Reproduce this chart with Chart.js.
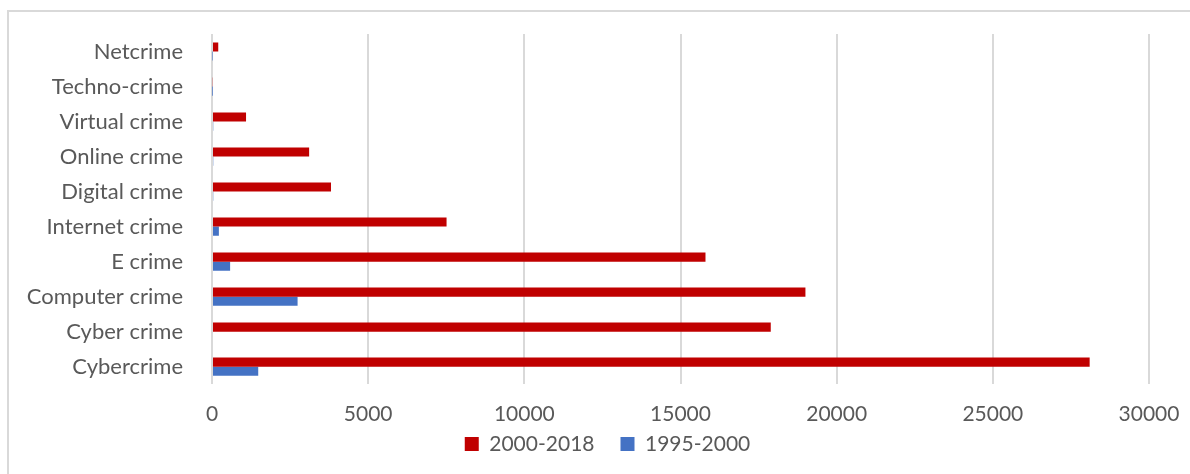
<!DOCTYPE html>
<html>
<head>
<meta charset="utf-8">
<script src="https://cdn.jsdelivr.net/npm/chart.js@4/dist/chart.umd.min.js"></script>
<style>
  body { margin: 0; background: #fff; }
  #frame {
    position: absolute; left: 7px; top: 10px; width: 1300px; height: 600px;
    border-left: 2px solid #d9d9d9; border-top: 2px solid #d9d9d9;
  }
  #chart { position: absolute; left: 0; top: 0; }
</style>
</head>
<body>
<div id="frame"></div>
<canvas id="chart" width="1190" height="474"></canvas>
<script>
const categories = ["Netcrime", "Techno-crime", "Virtual crime", "Online crime", "Digital crime",
  "Internet crime", "E crime", "Computer crime", "Cyber crime", "Cybercrime"];
const recent = [200, 25, 1090, 3110, 3810, 7510, 15800, 19000, 17890, 28100];   // 2000-2018
const early = [15, 10, 40, 40, 40, 220, 580, 2740, 0, 1480];                   // 1995-2000
const xTicks = [0, 5000, 10000, 15000, 20000, 25000, 30000];

const family = "Lato, 'Open Sans', sans-serif";
const grey = "#595959";

// the x axis box is kept short so the legend can sit close; let its labels
// spill below it, and nudge the legend row right so it sits under the plot
const layoutTweaks = {
  id: "layoutTweaks",
  afterLayout(chart) {
    chart.scales.x.bottom = chart.height;
    chart.legend.left += 33;
    chart.legend.right += 33;
  }
};

const ctx = document.getElementById("chart").getContext("2d");

new Chart(ctx, {
  type: "bar",
  data: {
    labels: categories,
    datasets: [
      { label: "2000-2018", data: recent, backgroundColor: "#c00000", borderWidth: 0 },
      { label: "1995-2000", data: early, backgroundColor: "#4472c4", borderWidth: 0 }
    ]
  },
  options: {
    indexAxis: "y",
    responsive: false,
    animation: false,
    barPercentage: 1,
    categoryPercentage: 0.52,
    layout: { padding: { left: 0, right: 41, top: 34, bottom: 9.4 } },
    scales: {
      x: {
        min: xTicks[0],
        max: xTicks[xTicks.length - 1],
        afterBuildTicks: s => { s.ticks = xTicks.map(v => ({ value: v })); },
        afterFit: s => { s.height = 23.4; s.paddingLeft = 0; s.paddingRight = 0; },
        grid: { color: "#d9d9d9", lineWidth: 2, drawTicks: false },
        border: { display: false },
        ticks: { color: grey, font: { family, size: 21 }, padding: 17, callback: v => String(v) }
      },
      y: {
        afterFit: s => { s.width = 212; s.paddingTop = 0; s.paddingBottom = 0; },
        grid: { display: false },
        border: { display: false },
        ticks: { color: grey, font: { family, size: 22 }, padding: 21 }
      }
    },
    plugins: {
      legend: {
        position: "bottom",
        labels: { color: grey, font: { family, size: 21 }, boxWidth: 14, boxHeight: 14, padding: 26 }
      },
      tooltip: { enabled: false }
    }
  },
  plugins: [layoutTweaks]
});
</script>
</body>
</html>
